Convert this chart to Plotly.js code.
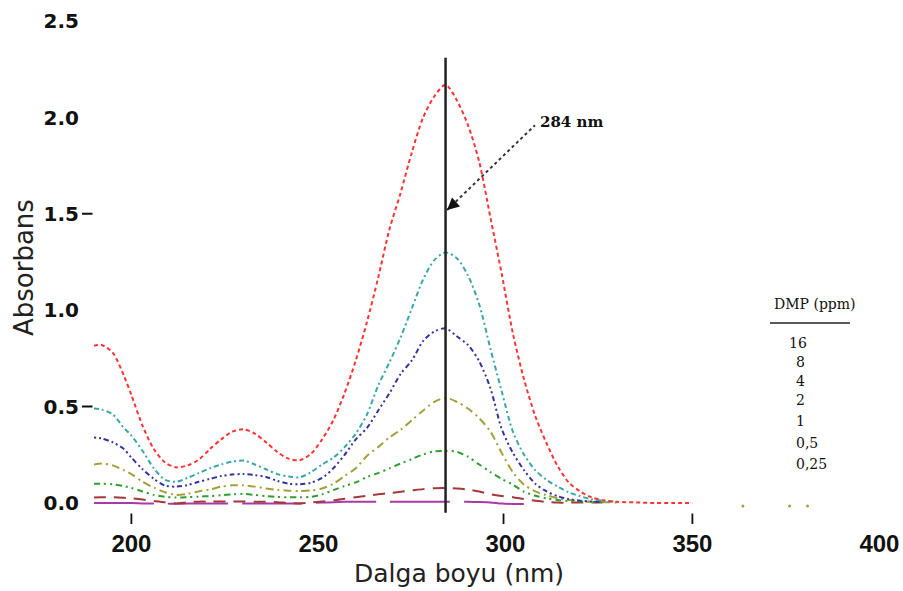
<!DOCTYPE html>
<html>
<head>
<meta charset="utf-8">
<script src="https://cdn.plot.ly/plotly-3.0.1.min.js"></script>
<style>html,body{margin:0;padding:0;background:#fff;}#chart{width:903px;height:591px;}</style>
</head>
<body>
<div id="chart"></div>
<script>
// Wavelength grid (nm)
const wavelength = [190,192,195,198,200,203,206,209,212,215,218,221,224,227,230,233,236,239,242,245,248,251,254,257,260,263,266,269,272,275,278,281,284,287,290,293,296,299,302,305,308,311,314,317,320,323,326,330,335,340,345,350];

// Absorbance series by DMP concentration (ppm)
const abs16 = [0.815,0.82,0.78,0.66,0.56,0.40,0.28,0.21,0.185,0.195,0.225,0.28,0.33,0.37,0.382,0.36,0.315,0.265,0.23,0.222,0.255,0.33,0.43,0.57,0.74,0.94,1.17,1.42,1.61,1.82,2.00,2.11,2.17,2.09,1.96,1.77,1.48,1.19,0.88,0.64,0.45,0.31,0.19,0.105,0.06,0.03,0.015,0.006,0.003,0.0,0.0,0.0];
const abs8 = [0.49,0.485,0.46,0.39,0.35,0.27,0.18,0.12,0.11,0.13,0.155,0.18,0.20,0.215,0.22,0.20,0.175,0.15,0.138,0.133,0.16,0.20,0.235,0.29,0.36,0.46,0.61,0.73,0.86,1.01,1.16,1.26,1.30,1.27,1.18,1.03,0.80,0.58,0.37,0.25,0.17,0.12,0.085,0.055,0.035,0.02,0.012,0.006,null,null,null,null];
const abs4 = [0.34,0.335,0.315,0.28,0.235,0.175,0.125,0.09,0.085,0.093,0.11,0.125,0.14,0.148,0.15,0.145,0.135,0.115,0.10,0.097,0.105,0.13,0.18,0.25,0.33,0.39,0.48,0.57,0.67,0.74,0.84,0.89,0.906,0.865,0.82,0.735,0.595,0.385,0.26,0.17,0.10,0.06,0.035,0.02,0.012,0.008,0.005,null,null,null,null,null];
const abs2 = [0.20,0.205,0.195,0.17,0.15,0.11,0.08,0.056,0.042,0.048,0.06,0.07,0.085,0.092,0.092,0.085,0.075,0.068,0.064,0.062,0.065,0.075,0.10,0.14,0.18,0.245,0.29,0.34,0.38,0.43,0.48,0.525,0.545,0.525,0.49,0.44,0.37,0.26,0.16,0.095,0.06,0.04,0.025,0.015,0.01,0.006,0.004,0.003,null,null,null,null];
const abs1 = [0.10,0.10,0.097,0.088,0.078,0.06,0.042,0.032,0.028,0.03,0.033,0.036,0.04,0.045,0.047,0.042,0.036,0.031,0.03,0.03,0.032,0.045,0.067,0.088,0.107,0.135,0.155,0.18,0.205,0.228,0.252,0.268,0.27,0.266,0.24,0.20,0.16,0.125,0.095,0.058,0.038,0.024,0.015,0.01,0.008,0.006,0.005,null,null,null,null,null];
const abs05 = [0.028,0.03,0.03,0.027,0.024,0.018,0.01,0.004,-0.002,0.004,0.007,0.007,0.008,0.008,0.008,0.007,0.006,0.004,0.0,-0.002,0.003,0.008,0.014,0.022,0.03,0.038,0.045,0.052,0.058,0.065,0.072,0.077,0.078,0.075,0.07,0.06,0.045,0.036,0.03,0.02,0.012,0.005,0.002,0.002,0.002,0.002,0.002,null,null,null,null,null];
const abs025 = [0.0,0.0,0.0,0.0,0.0,-0.002,-0.003,-0.003,-0.004,-0.003,-0.003,-0.002,-0.002,-0.002,-0.002,-0.002,-0.002,-0.003,-0.003,-0.003,0.0,0.002,0.004,0.006,0.007,0.007,0.007,0.007,0.007,0.007,0.007,0.007,0.007,0.006,0.006,0.005,0.003,-0.003,-0.005,-0.005,null,null,null,null,null,null,null,null,null,null,null,null];

// Stray olive dots beyond the band
const oliveTailX = [363.5,376,380.8];
const oliveTailY = [-0.015,-0.015,-0.015];

const concLabels = ["16","8","4","2","1","0,5","0,25"];
const tickVals = [200,250,300,350,400];
const tickMarkVals = [200,299.5,350];
const yTickVals = [0,0.5,1,1.5,2,2.5];
const yDashVals = [0.5,1.5];

// Reference line at lambda max and pointer
const lambdaMax = 284;
const lambdaLineY = [-0.05,2.31];
const pointerX = [284.4,307.9];
const pointerY = [1.52,1.96];
const pointerLabel = "284 nm";

const series = [
  {y: abs025, color: "#a83aa8", dash: "60px,14px"},
  {y: abs05,  color: "#a33838", dash: "12px,8px"},
  {y: abs1,   color: "#2e9e2e", dash: "6px,4px,2px,4px,2px,4px"},
  {y: abs2,   color: "#a3a03a", dash: "8px,4px,2px,4px"},
  {y: abs4,   color: "#33339e", dash: "2px,3px,2px,3px,5px,3px"},
  {y: abs8,   color: "#3aa6a6", dash: "5px,3px,2px,3px"},
  {y: abs16,  color: "#ff3333", dash: "4px,3px"}
];

const traces = series.map(s => ({
  type: "scatter", mode: "lines", x: wavelength, y: s.y,
  line: {color: s.color, width: 2, dash: s.dash, shape: "spline", smoothing: 0.8},
  connectgaps: false, showlegend: false, hoverinfo: "skip"
}));
traces.push({type:"scatter", mode:"markers", x: oliveTailX, y: oliveTailY,
  marker:{color:"#a3a03a", size:3}, showlegend:false, hoverinfo:"skip"});
traces.push({type:"scatter", mode:"lines", x:[lambdaMax,lambdaMax], y: lambdaLineY,
  line:{color:"#222", width:2.5}, showlegend:false, hoverinfo:"skip"});
traces.push({type:"scatter", mode:"lines", x: pointerX, y: pointerY,
  line:{color:"#333", width:2, dash:"dot"}, showlegend:false, hoverinfo:"skip"});

// Layout geometry
const L = 94, R = 20, T = 10, B = 65, W = 903, H = 591;
const pw = W - L - R, ph = H - T - B;
const px2x = p => (p - L) / pw;
const py2y = p => (H - B - p) / ph;

const legendY = [343,362,381,400,421,443,464];
const legendX = [787,794,794,794,794,794,794];

const annotations = [
  {xref:"paper", yref:"paper", x: px2x(24), y: 0.5, text:"Absorbans", textangle:-90, showarrow:false,
   font:{family:"DejaVu Sans", size:26, color:"#222"}, xanchor:"center", yanchor:"middle"},
  {xref:"paper", yref:"paper", x: px2x(459), y: py2y(573), text:"Dalga boyu (nm)", showarrow:false,
   font:{family:"DejaVu Sans", size:25, color:"#222"}, xanchor:"center", yanchor:"middle"},
  {xref:"x", yref:"y", x: 308.7, y: 1.977, text: pointerLabel, showarrow:false, xanchor:"left", yanchor:"middle",
   font:{family:"DejaVu Serif", size:15, color:"#111", weight:"bold"}},
  {xref:"x", yref:"y", x: pointerX[0], y: pointerY[0], ax: 9, ay: -8, text:"", showarrow:true,
   arrowhead:2, arrowsize:1.2, arrowwidth:2, arrowcolor:"#111", axref:"pixel", ayref:"pixel"},
  {xref:"paper", yref:"paper", x: px2x(772), y: py2y(304), text:"DMP (ppm)", showarrow:false, xanchor:"left", yanchor:"middle",
   font:{family:"DejaVu Serif", size:14, color:"#111"}}
];
concLabels.forEach((c, i) => annotations.push({
  xref:"paper", yref:"paper", x: px2x(legendX[i]), y: py2y(legendY[i]), text: c, showarrow:false,
  xanchor:"left", yanchor:"middle", font:{family:"DejaVu Serif", size:14, color:"#111"}
}));
// x tick marks in the gap above the labels (headless arrows)
tickMarkVals.forEach(v => annotations.push({xref:"x", yref:"paper", x:v, y: py2y(524), ax:0, ay:-12,
  text:"", showarrow:true, arrowhead:0, arrowwidth:1.8, arrowcolor:"#111", standoff:0, startstandoff:0}));
// short dashes beside two y labels
yDashVals.forEach(v => annotations.push({xref:"paper", yref:"y", x: px2x(82), y: v, ax:12, ay:0,
  text:"", showarrow:true, arrowhead:0, arrowwidth:2, arrowcolor:"#111", standoff:0, startstandoff:0}));

const shapes = [
  {type:"line", xref:"paper", yref:"paper", x0: px2x(770), x1: px2x(850), y0: py2y(323), y1: py2y(323),
   line:{color:"#222", width:1.5}}
];

const layout = {
  width: W, height: H,
  margin: {l: L, r: R, t: T, b: B},
  paper_bgcolor: "#fff", plot_bgcolor: "#fff",
  showlegend: false,
  xaxis: {
    range: [190, 190 + pw / 3.74], tickvals: tickVals, showgrid:false, zeroline:false, showline:false,
    ticks:"outside", ticklen:10, tickwidth:1, tickcolor:"rgba(0,0,0,0)", ticklabelstandoff: -14,
    tickfont:{family:"Liberation Sans", size:24, color:"#111", weight:"bold"}
  },
  yaxis: {
    range: [-(H - B - 503) / 192.75, (503 - T) / 192.75], tickvals: yTickVals, tickformat: ".1f",
    showgrid:false, zeroline:false, showline:false, ticks:"", ticklabelstandoff: 14,
    tickfont:{family:"DejaVu Sans", size:20, color:"#111", weight:"bold"}
  },
  shapes: shapes,
  annotations: annotations
};

Plotly.newPlot("chart", traces, layout, {displayModeBar:false, staticPlot:true});
</script>
</body>
</html>
